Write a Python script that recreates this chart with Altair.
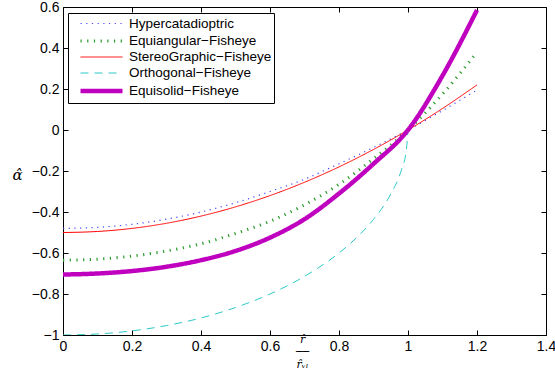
import altair as alt
import pandas as pd

# ---- data ----
R = [0.0, 0.1, 0.2, 0.3, 0.4, 0.5, 0.6, 0.7, 0.8, 0.9, 1.0, 1.1, 1.2]
HYPER = [-0.48, -0.475, -0.46, -0.435, -0.40, -0.355, -0.30, -0.24, -0.165, -0.085, 0.0, 0.095, 0.195]
EQUIANG = [-0.635, -0.63, -0.615, -0.59, -0.555, -0.505, -0.445, -0.365, -0.265, -0.14, 0.0, 0.175, 0.38]
STEREO = [-0.5, -0.495, -0.48, -0.455, -0.42, -0.375, -0.32, -0.255, -0.18, -0.095, 0.0, 0.105, 0.22]
EQUISOLID = [-0.705, -0.70, -0.688, -0.667, -0.635, -0.59, -0.525, -0.435, -0.31, -0.165, 0.0, 0.265, 0.585]
R_ORTHO = [0.0, 0.1, 0.2, 0.3, 0.4, 0.5, 0.6, 0.7, 0.8, 0.85, 0.9, 0.95, 0.98, 0.995, 1.0]
ORTHO = [-1.0, -0.995, -0.98, -0.954, -0.917, -0.866, -0.80, -0.714, -0.60, -0.527, -0.436, -0.312, -0.199, -0.1, 0.0]

NAMES = ["Hypercatadioptric", "Equiangular\u2212Fisheye", "StereoGraphic\u2212Fisheye",
         "Orthogonal\u2212Fisheye", "Equisolid\u2212Fisheye"]
X_TICKS = [0, 0.2, 0.4, 0.6, 0.8, 1, 1.2, 1.4]
Y_TICKS = [-1, -0.8, -0.6, -0.4, -0.2, 0, 0.2, 0.4, 0.6]

COLORS = ["#4646ff", "#2a9a2a", "#ff0000", "#2ec8c8", "#bf00bf"]
DASHES = [[1.2, 4.5], [1.2, 5.5], [1, 0], [8, 6], [1, 0]]
WIDTHS = [1.2, 3, 1, 1, 4.5]

FONT = "Liberation Sans"
SERIF = "DejaVu Serif"

series = [
    (NAMES[0], R, HYPER),
    (NAMES[1], R, EQUIANG),
    (NAMES[2], R, STEREO),
    (NAMES[3], R_ORTHO, ORTHO),
    (NAMES[4], R, EQUISOLID),
]
rows = []
for name, xs, ys in series:
    for i, (xv, yv) in enumerate(zip(xs, ys)):
        rows.append({"series": name, "r": xv, "alpha": yv, "i": i})
df = pd.DataFrame(rows)

xscale = alt.Scale(domain=[0, 1.4], nice=False, zero=False)
yscale = alt.Scale(domain=[-1, 0.6], nice=False, zero=False)

legend = alt.Legend(
    title=None, orient="none", legendX=5, legendY=6,
    symbolType="M-3,0H3", symbolSize=196, symbolOffset=21.5,
    labelFont=FONT, labelFontSize=13.5, labelColor="black", labelOffset=18,
    strokeColor="black", fillColor="white", padding=2.5, rowPadding=2,
    cornerRadius=0,
)

common_axis = dict(offset=-5, tickSize=5, domain=False, grid=False,
                   tickColor="black", tickWidth=1)

x_bottom = alt.Axis(
    orient="bottom", values=X_TICKS, format="~g", labelFlush=False, labelOverlap=False,
    labelPadding=4, labelFont=FONT, labelFontSize=14, labelColor="black",
    title=["r\u0302", "\u2500\u2500", "r\u0302\u1d65\u2097"],
    titleFont=SERIF, titleFontStyle="italic", titleFontWeight="normal",
    titleFontSize=11, titleLineHeight=12.5, titleColor="black",
    titleX=239, titleY=3, titleBaseline="top", titleAlign="center",
    **common_axis,
)
y_left = alt.Axis(
    orient="left", values=Y_TICKS, format="~g", labelFlush=False, labelOverlap=False,
    labelPadding=4, labelFont=FONT, labelFontSize=14, labelColor="black",
    title="\u03b1\u0302", titleFont=SERIF, titleFontStyle="italic", titleFontWeight="normal",
    titleFontSize=15, titleColor="black", titleAngle=0, titleX=-51, titleY=167,
    titleBaseline="middle", titleAlign="center",
    **common_axis,
)
x_top = alt.Axis(orient="top", values=X_TICKS, labels=False, title=None, **common_axis)
y_right = alt.Axis(orient="right", values=Y_TICKS, labels=False, title=None, **common_axis)

lines = alt.Chart(df).mark_line(interpolate="monotone", clip=True).encode(
    x=alt.X("r:Q", scale=xscale, axis=x_bottom),
    y=alt.Y("alpha:Q", scale=yscale, axis=y_left),
    color=alt.Color("series:N", scale=alt.Scale(domain=NAMES, range=COLORS), legend=legend, sort=NAMES),
    strokeDash=alt.StrokeDash("series:N", scale=alt.Scale(domain=NAMES, range=DASHES), legend=legend, sort=NAMES),
    strokeWidth=alt.StrokeWidth("series:N", scale=alt.Scale(type="ordinal", domain=NAMES, range=WIDTHS),
                                legend=legend, sort=NAMES),
    order="i:Q",
)

frame = alt.Chart(df).mark_line(opacity=0).encode(
    x=alt.X("r:Q", scale=xscale, axis=x_top),
    y=alt.Y("alpha:Q", scale=yscale, axis=y_right),
    detail="series:N",
)

chart = alt.layer(lines, frame).resolve_axis(x="independent", y="independent").properties(
    width=483, height=328,
    autosize=alt.AutoSizeParams(type="none"),
    padding={"left": 63, "top": 7, "right": 9, "bottom": 46},
    background="white",
).configure_view(stroke="black", strokeWidth=1)

chart.save("out.html", embed_options={"renderer": "svg", "actions": False})
